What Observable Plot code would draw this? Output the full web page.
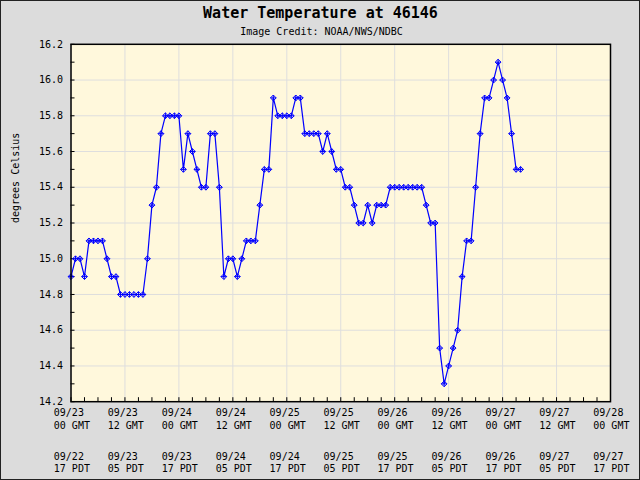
<!DOCTYPE html>
<html>
<head>
<meta charset="utf-8">
<script src="https://cdn.jsdelivr.net/npm/d3@7"></script>
<script src="https://cdn.jsdelivr.net/npm/@observablehq/plot@0.6"></script>
<style>
  html, body { margin: 0; padding: 0; background: #dcdcdc; }
  #chart svg { display: block; outline: 1px solid #222; outline-offset: -1px; }
</style>
</head>
<body>
<div id="chart"></div>
<script>
// Hourly water temperature (deg C) starting 09/23 00 GMT
const temps = [
  14.9, 15.0, 15.0, 14.9, 15.1, 15.1, 15.1, 15.1, 15.0, 14.9,
  14.9, 14.8, 14.8, 14.8, 14.8, 14.8, 14.8, 15.0, 15.3, 15.4,
  15.7, 15.8, 15.8, 15.8, 15.8, 15.5, 15.7, 15.6, 15.5, 15.4,
  15.4, 15.7, 15.7, 15.4, 14.9, 15.0, 15.0, 14.9, 15.0, 15.1,
  15.1, 15.1, 15.3, 15.5, 15.5, 15.9, 15.8, 15.8, 15.8, 15.8,
  15.9, 15.9, 15.7, 15.7, 15.7, 15.7, 15.6, 15.7, 15.6, 15.5,
  15.5, 15.4, 15.4, 15.3, 15.2, 15.2, 15.3, 15.2, 15.3, 15.3,
  15.3, 15.4, 15.4, 15.4, 15.4, 15.4, 15.4, 15.4, 15.4, 15.3,
  15.2, 15.2, 14.5, 14.3, 14.4, 14.5, 14.6, 14.9, 15.1, 15.1,
  15.4, 15.7, 15.9, 15.9, 16.0, 16.1, 16.0, 15.9, 15.7, 15.5,
  15.5
];

// x tick positions (hours since 09/23 00 GMT) and labels
const xMajorTicks = [0, 12, 24, 36, 48, 60, 72, 84, 96, 108, 120];
const xMinorTicks = [0,3,6,9,12,15,18,21,24,27,30,33,36,39,42,45,48,51,54,57,60,63,66,69,72,75,78,81,84,87,90,93,96,99,102,105,108,111,114,117,120];
const gmtLabels = ["09/23\n00 GMT", "09/23\n12 GMT", "09/24\n00 GMT", "09/24\n12 GMT", "09/25\n00 GMT", "09/25\n12 GMT", "09/26\n00 GMT", "09/26\n12 GMT", "09/27\n00 GMT", "09/27\n12 GMT", "09/28\n00 GMT"];
const pdtLabels = ["09/22\n17 PDT", "09/23\n05 PDT", "09/23\n17 PDT", "09/24\n05 PDT", "09/24\n17 PDT", "09/25\n05 PDT", "09/25\n17 PDT", "09/26\n05 PDT", "09/26\n17 PDT", "09/27\n05 PDT", "09/27\n17 PDT"];
const yMajorTicks = [14.2, 14.4, 14.6, 14.8, 15.0, 15.2, 15.4, 15.6, 15.8, 16.0, 16.2];
const yMinorTicks = [14.3, 14.5, 14.7, 14.9, 15.1, 15.3, 15.5, 15.7, 15.9, 16.1];

const title = "Water Temperature at 46146";
const subtitle = "Image Credit: NOAA/NWS/NDBC";
const yLabel = "degrees Celsius";

const W = 640, H = 480;
const mL = 70.5, mR = 30, mT = 43.8, mB = 78.8;
const frameW = W - mL - mR, frameH = H - mT - mB;
const font = "DejaVu Sans Mono";

const series = temps.map((t, i) => ({hour: i, temp: t}));
const xTickRows = xMajorTicks.map((h, i) => ({hour: h, gmt: gmtLabels[i], pdt: pdtLabels[i]}));

const chart = Plot.plot({
  width: W,
  height: H,
  marginLeft: mL,
  marginRight: mR,
  marginTop: mT,
  marginBottom: mB,
  style: {background: "#dcdcdc", fontFamily: font, fontSize: "10px", color: "black"},
  x: {domain: [0, 120], axis: null},
  y: {domain: [14.2, 16.2], axis: null},
  marks: [
    Plot.frame({fill: "#fff8dc"}),
    Plot.ruleX(xMajorTicks, {x: d => d, stroke: "#dedede", strokeWidth: 1}),
    Plot.ruleY(yMajorTicks, {y: d => d, stroke: "#dedede", strokeWidth: 1}),
    Plot.tickX(xMinorTicks, {x: d => d, stroke: "black", insetTop: frameH - 4}),
    Plot.tickY(yMajorTicks.concat(yMinorTicks), {y: d => d, stroke: "black", insetRight: frameW - 4}),
    Plot.line(series, {x: "hour", y: "temp", stroke: "#0000ff", strokeWidth: 1.2}),
    Plot.dot(series, {x: "hour", y: "temp", symbol: "diamond2", r: 2.6, stroke: "#0000ff", strokeWidth: 1}),
    Plot.dot(series, {x: "hour", y: "temp", symbol: "plus", r: 2, stroke: "#0000ff", strokeWidth: 1}),
    Plot.frame({stroke: "black", strokeWidth: 1.5}),
    // y tick labels
    Plot.text(yMajorTicks, {y: d => d, text: d => d.toFixed(1), frameAnchor: "left", textAnchor: "end", dx: -8, fontSize: 10}),
    // x tick labels (GMT and PDT)
    Plot.text(xTickRows, {x: "hour", text: "gmt", frameAnchor: "bottom", textAnchor: "start", lineAnchor: "middle", dx: -17.2, dy: 16.7, lineHeight: 1.25, fontSize: 10}),
    Plot.text(xTickRows, {x: "hour", text: "pdt", frameAnchor: "bottom", textAnchor: "start", lineAnchor: "middle", dx: -17.2, dy: 60.2, lineHeight: 1.25, fontSize: 10}),
    // y axis label
    Plot.text([yLabel], {frameAnchor: "left", rotate: -90, dx: -55.5, fontSize: 10}),
    // title and subtitle
    Plot.text([title], {frameAnchor: "top", lineAnchor: "middle", dx: 320 - (mL + frameW / 2), dy: 12.5 - mT, fontSize: 15, fontWeight: "bold"}),
    Plot.text([subtitle], {frameAnchor: "top", lineAnchor: "middle", dx: 321 - (mL + frameW / 2), dy: 31 - mT, fontSize: 10})
  ]
});
document.getElementById("chart").appendChild(chart);
</script>
</body>
</html>
